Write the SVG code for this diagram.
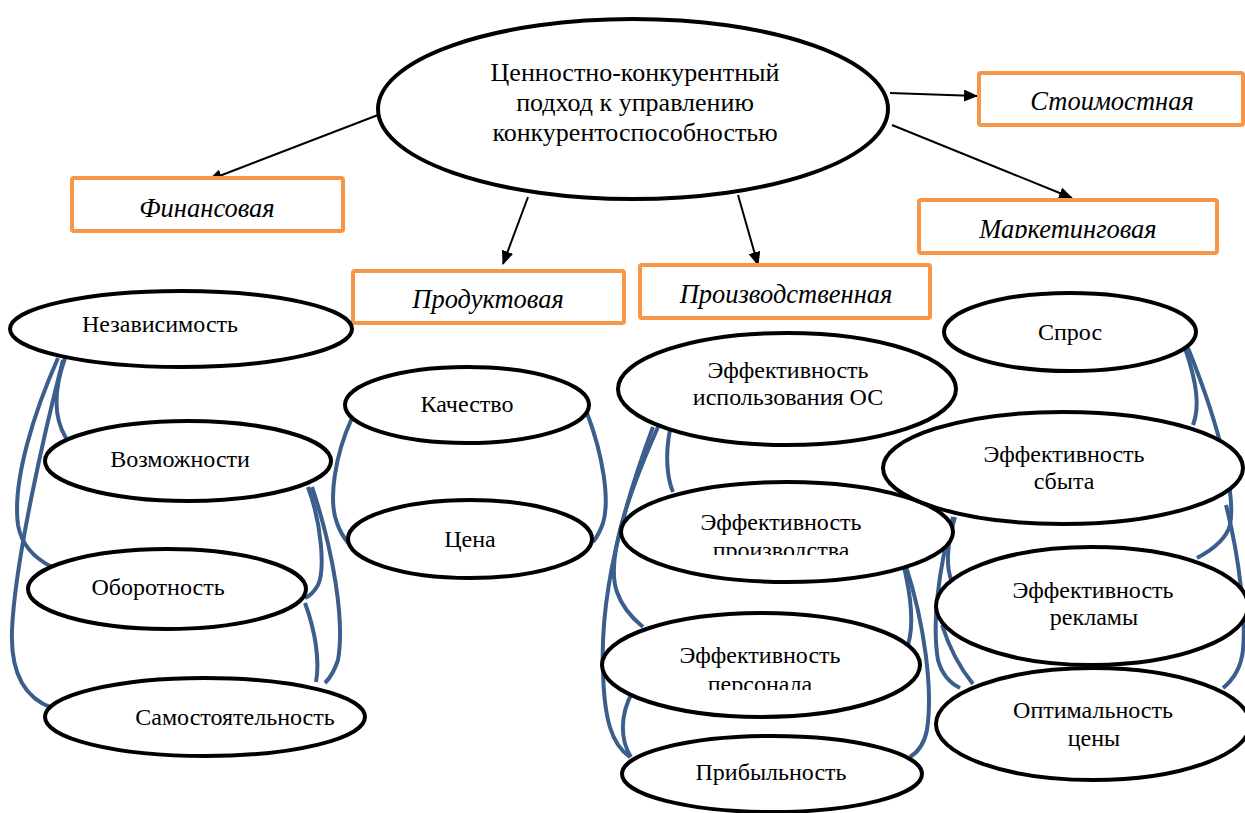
<svg xmlns="http://www.w3.org/2000/svg" width="1245" height="813" viewBox="0 0 1245 813">
<style>
.el{fill:#fff;stroke:#000;stroke-width:4}
.box{fill:#fff;stroke:#f79646;stroke-width:4}
.t{font-family:'Liberation Serif','DejaVu Serif',serif;font-size:24px;fill:#000;text-anchor:middle}
.tc{font-family:'Liberation Serif','DejaVu Serif',serif;font-size:26px;fill:#000;text-anchor:middle}
.it{font-family:'Liberation Serif','DejaVu Serif',serif;font-size:26.5px;font-style:italic;fill:#000;text-anchor:middle}
.arr{stroke:#000;stroke-width:2;fill:none;marker-end:url(#ah)}
.ln{stroke:#3b5e8c;stroke-width:4;fill:none}
</style>
<defs>
<marker id="ah" viewBox="0 0 14 12" refX="13" refY="6" markerWidth="14" markerHeight="12" markerUnits="userSpaceOnUse" orient="auto">
<path d="M0,0 L14,6 L0,12 z" fill="#000"/>
</marker>
<clipPath id="cpProd" clipPathUnits="userSpaceOnUse"><rect x="600" y="480" width="360" height="75"/></clipPath>
<clipPath id="cpPers" clipPathUnits="userSpaceOnUse"><rect x="590" y="610" width="340" height="80"/></clipPath>
<clipPath id="cpMark" clipPathUnits="userSpaceOnUse"><rect x="919" y="200" width="300" height="38"/></clipPath>
</defs>
<rect width="1245" height="813" fill="#fff"/>

<g id="connectors">
<line class="arr" x1="378" y1="115" x2="209" y2="180"/>
<line class="arr" x1="528" y1="197" x2="503" y2="264"/>
<line class="arr" x1="738" y1="195" x2="758" y2="265"/>
<line class="arr" x1="890" y1="93" x2="977" y2="96"/>
<line class="arr" x1="892" y1="125" x2="1072" y2="198"/>

<path class="ln" d="M65,358 C52,395 55,420 66,438"/>
<path class="ln" d="M58,358 C35,410 12,480 18,525 C22,548 38,560 52,567"/>
<path class="ln" d="M63,360 C45,430 15,560 12,630 C10,680 30,700 52,708"/>
<path class="ln" d="M308,487 C322,525 325,570 318,585 C314,592 310,596 305,598"/>
<path class="ln" d="M312,487 C333,550 345,620 338,660 C334,672 330,678 325,683"/>
<path class="ln" d="M305,603 C315,630 320,660 316,682"/>

<path class="ln" d="M352,418 C335,455 328,500 337,523 C340,532 344,538 349,544"/>
<path class="ln" d="M587,413 C603,455 610,500 603,523 C600,532 597,537 593,542"/>

<path class="ln" d="M670,430 C665,455 667,478 673,492"/>
<path class="ln" d="M658,427 C630,490 605,560 617,592 C622,607 632,618 643,627"/>
<path class="ln" d="M653,427 C620,515 600,600 603,670 C604,720 612,745 630,757"/>
<path class="ln" d="M632,693 C620,715 620,740 631,757"/>
<path class="ln" d="M903,563 C911,595 914,625 908,645"/>
<path class="ln" d="M905,563 C925,625 933,690 927,730 C924,745 918,752 910,757"/>

<path class="ln" d="M1185,348 C1197,383 1200,407 1193,425"/>
<path class="ln" d="M1188,348 C1225,440 1235,500 1230,525 C1226,540 1212,550 1197,558"/>
<path class="ln" d="M1226,505 C1240,560 1246,620 1243,650 C1241,668 1233,680 1223,688"/>
<path class="ln" d="M955,517 C946,548 946,568 952,582"/>
<path class="ln" d="M953,517 C938,570 932,625 938,660 C942,675 950,683 960,688"/>
<path class="ln" d="M942,625 C950,650 960,668 973,684"/>
</g>

<g id="center">
<ellipse class="el" cx="633" cy="109" rx="255" ry="90"/>
<text class="tc" x="635" y="81">Ценностно-конкурентный</text>
<text class="tc" x="635" y="111">подход к управлению</text>
<text class="tc" x="635" y="141">конкурентоспособностью</text>
</g>

<g id="fin">
<rect class="box" x="72" y="178" width="271" height="53" rx="2"/>
<text class="it" x="207" y="217">Финансовая</text>
</g>
<g id="prod">
<rect class="box" x="353" y="271" width="271" height="52" rx="2"/>
<text class="it" x="488" y="308">Продуктовая</text>
</g>
<g id="proizv">
<rect class="box" x="640" y="265" width="290" height="53" rx="2"/>
<text class="it" x="786" y="303">Производственная</text>
</g>
<g id="stoim">
<rect class="box" x="979" y="73" width="264" height="52" rx="2"/>
<text class="it" x="1112" y="110">Стоимостная</text>
</g>
<g id="mark">
<rect class="box" x="919" y="200" width="298" height="53" rx="2"/>
<text class="it" x="1068" y="238" clip-path="url(#cpMark)">Маркетинговая</text>
</g>

<g id="nezav">
<ellipse class="el" cx="181" cy="329" rx="171" ry="38"/>
<text class="t" x="160" y="332">Независимость</text>
</g>
<g id="vozm">
<ellipse class="el" cx="188" cy="461" rx="143" ry="40"/>
<text class="t" x="180" y="467">Возможности</text>
</g>
<g id="oborot">
<ellipse class="el" cx="167" cy="589" rx="139" ry="40"/>
<text class="t" x="158" y="595">Оборотность</text>
</g>
<g id="samost">
<ellipse class="el" cx="205" cy="717" rx="160" ry="39"/>
<text class="t" x="235" y="725">Самостоятельность</text>
</g>

<g id="kach">
<ellipse class="el" cx="467" cy="405" rx="122" ry="38"/>
<text class="t" x="467" y="412">Качество</text>
</g>
<g id="cena">
<ellipse class="el" cx="470" cy="539" rx="122" ry="39"/>
<text class="t" x="470" y="547">Цена</text>
</g>

<g id="effOS">
<ellipse class="el" cx="787" cy="389" rx="169" ry="56"/>
<text class="t" x="788" y="378">Эффективность</text>
<text class="t" x="788" y="405">использования ОС</text>
</g>
<g id="effProizv">
<ellipse class="el" cx="787" cy="532" rx="166" ry="50"/>
<text class="t" x="781" y="530">Эффективность</text>
<text class="t" x="781" y="558" clip-path="url(#cpProd)">производства</text>
</g>
<g id="effPers">
<ellipse class="el" cx="761" cy="665" rx="159" ry="52"/>
<text class="t" x="760" y="663">Эффективность</text>
<text class="t" x="760" y="692" clip-path="url(#cpPers)">персонала</text>
</g>
<g id="pribyl">
<ellipse class="el" cx="772" cy="774" rx="150" ry="38"/>
<text class="t" x="771" y="780">Прибыльность</text>
</g>

<g id="spros">
<ellipse class="el" cx="1070" cy="332" rx="126" ry="39"/>
<text class="t" x="1070" y="340">Спрос</text>
</g>
<g id="effSbyt">
<ellipse class="el" cx="1063" cy="468" rx="180" ry="56"/>
<text class="t" x="1064" y="462">Эффективность</text>
<text class="t" x="1064" y="489">сбыта</text>
</g>
<g id="effRekl">
<ellipse class="el" cx="1092" cy="606" rx="156" ry="59"/>
<text class="t" x="1093" y="598">Эффективность</text>
<text class="t" x="1094" y="625">рекламы</text>
</g>
<g id="optim">
<ellipse class="el" cx="1093" cy="724" rx="157" ry="56"/>
<text class="t" x="1093" y="718">Оптимальность</text>
<text class="t" x="1094" y="746">цены</text>
</g>
</svg>
